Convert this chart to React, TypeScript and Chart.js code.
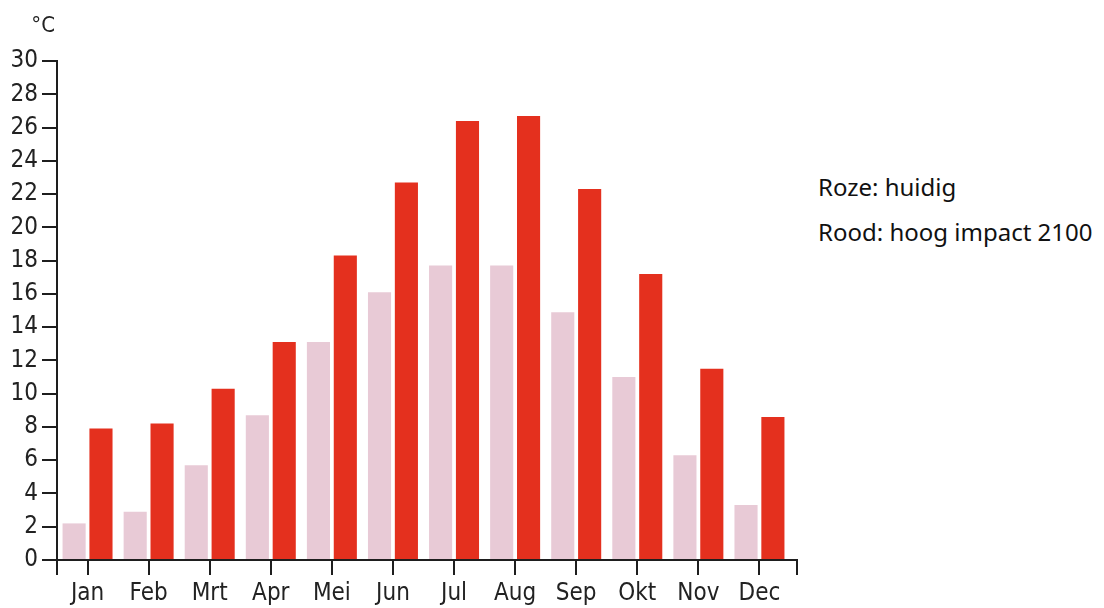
import React, { useEffect, useRef } from "react";
import { Chart, registerables } from "chart.js";

Chart.register(...registerables);

const months = ["Jan", "Feb", "Mrt", "Apr", "Mei", "Jun", "Jul", "Aug", "Sep", "Okt", "Nov", "Dec"];
const huidig = [2.2, 2.9, 5.7, 8.7, 13.1, 16.1, 17.7, 17.7, 14.9, 11.0, 6.3, 3.3];
const hoogImpact2100 = [7.9, 8.2, 10.3, 13.1, 18.3, 22.7, 26.4, 26.7, 22.3, 17.2, 11.5, 8.6];
const yTicks = [0, 2, 4, 6, 8, 10, 12, 14, 16, 18, 20, 22, 24, 26, 28, 30];
const legendLines = ["Roze: huidig", "Rood: hoog impact 2100"];

const PINK = "#e8cad6";
const RED = "#e4301e";
const AXIS = "#1e1e1e";
const TICK_FONT = "'Liberation Sans Narrow', 'DejaVu Sans Condensed', 'Arial Narrow', sans-serif";
const AXIS_OVERHANG = 7;

const extrasPlugin = {
  id: "extras",
  afterDraw(chart: any) {
    const { ctx, chartArea } = chart;
    const endX = chartArea.right + AXIS_OVERHANG;
    ctx.save();
    ctx.strokeStyle = AXIS;
    ctx.lineWidth = 2;
    ctx.beginPath();
    ctx.moveTo(chartArea.right, chartArea.bottom);
    ctx.lineTo(endX, chartArea.bottom);
    ctx.moveTo(chartArea.left, chartArea.bottom);
    ctx.lineTo(chartArea.left, chartArea.bottom + 15);
    ctx.moveTo(endX, chartArea.bottom - 1);
    ctx.lineTo(endX, chartArea.bottom + 15);
    ctx.stroke();
    ctx.fillStyle = "#222";
    ctx.font = `22px ${TICK_FONT}`;
    ctx.textAlign = "right";
    ctx.textBaseline = "middle";
    ctx.fillText("°C", chartArea.left - 2, chartArea.top - 35);
    ctx.restore();
  },
};

export default function App() {
  const ref = useRef<HTMLCanvasElement>(null);
  useEffect(() => {
    if (!ref.current) return;
    const chart = new Chart(ref.current, {
      type: "bar",
      data: {
        labels: months,
        datasets: [
          { label: "huidig", data: huidig, backgroundColor: PINK },
          { label: "hoog impact 2100", data: hoogImpact2100, backgroundColor: RED },
        ],
      },
      options: {
        animation: false,
        responsive: false,
        devicePixelRatio: 1,
        layout: { padding: { top: 53, right: 18, left: 0, bottom: 0 } },
        datasets: { bar: { categoryPercentage: 0.88, barPercentage: 0.86 } },
        plugins: { legend: { display: false }, tooltip: { enabled: false } },
        scales: {
          x: {
            afterFit: (s: any) => { s.height = 48; },
            grid: { offset: false, drawOnChartArea: false, drawTicks: true, tickLength: 15, color: AXIS, lineWidth: 2 },
            border: { display: true, color: AXIS, width: 2 },
            ticks: { color: "#222", font: { family: TICK_FONT, size: 24 }, padding: 4, maxRotation: 0 },
          },
          y: {
            min: 0,
            max: 30,
            afterFit: (s: any) => { s.width = 49; },
            afterBuildTicks: (s: any) => { s.ticks = yTicks.map((v) => ({ value: v })); },
            grid: { drawOnChartArea: false, drawTicks: true, tickLength: 15, color: AXIS, lineWidth: 2 },
            border: { display: true, color: AXIS, width: 2 },
            ticks: { color: "#222", font: { family: TICK_FONT, size: 24 }, padding: 4 },
          },
        },
      },
      plugins: [extrasPlugin],
    });
    return () => chart.destroy();
  }, []);

  return (
    <div style={{ position: "relative", width: 1088, height: 600 }}>
      <canvas ref={ref} width={800} height={600} style={{ display: "block" }} />
      {legendLines.map((t, i) => (
        <div
          key={t}
          style={{
            position: "absolute",
            left: 810,
            top: 165 + i * 45,
            fontFamily: "'Noto Sans', sans-serif",
            fontSize: 24,
            lineHeight: "28px",
            color: "#111",
            whiteSpace: "nowrap",
          }}
        >
          {t}
        </div>
      ))}
    </div>
  );
}
